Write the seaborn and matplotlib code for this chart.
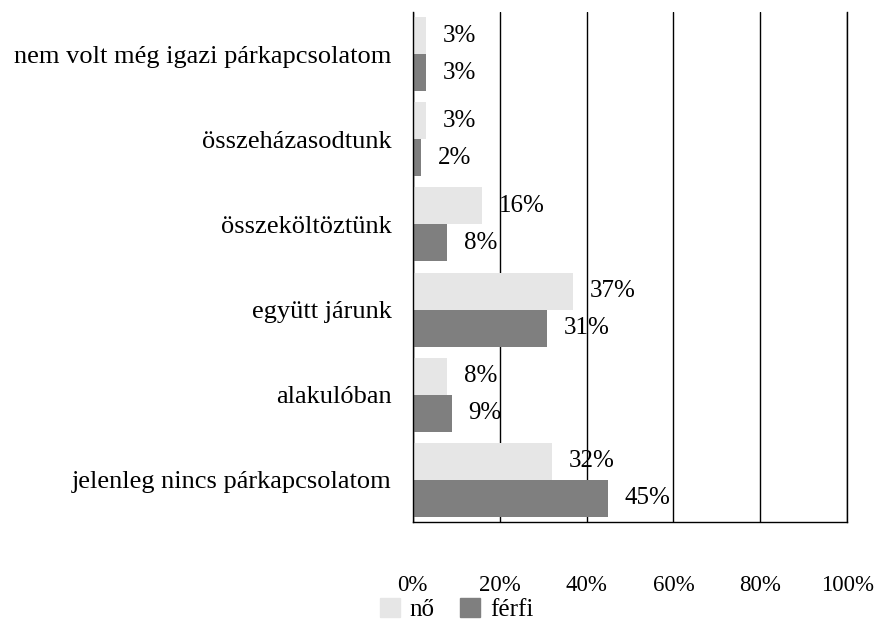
import pandas as pd
import numpy as np
import matplotlib.pyplot as plt
import seaborn as sns

# ----------------------------------------------
# Data
# ----------------------------------------------
categories = [
    "nem volt még igazi párkapcsolatom",
    "összeházasodtunk",
    "összeköltöztünk",
    "együtt járunk",
    "alakulóban",
    "jelenleg nincs párkapcsolatom",
]
no_values = [3, 3, 16, 37, 8, 32]      # nő
ferfi_values = [3, 2, 8, 31, 9, 45]    # férfi
series_names = ["nő", "férfi"]
x_ticks = [0, 20, 40, 60, 80, 100]
x_tick_labels = ["0%", "20%", "40%", "60%", "80%", "100%"]

df = pd.DataFrame({
    "category": categories * 2,
    "value": no_values + ferfi_values,
    "sex": [series_names[0]] * len(categories) + [series_names[1]] * len(categories),
})

# ----------------------------------------------
# Style
# ----------------------------------------------
sns.set_style("white")
plt.rcParams['font.family'] = ['Liberation Serif', 'DejaVu Serif']
plt.rcParams['text.color'] = 'black'
plt.rcParams['xtick.color'] = 'black'
plt.rcParams['ytick.color'] = 'black'

colors = ["#e6e6e6", "#7f7f7f"]

fig = plt.figure(figsize=(8.78, 6.21), dpi=100)
ax = fig.add_axes([0.470, 0.159, 0.495, 0.822])

sns.barplot(data=df, x="value", y="category", hue="sex",
            order=categories, hue_order=series_names,
            palette=colors, width=0.87, gap=0, linewidth=0,
            orient="h", ax=ax, legend=False, zorder=2)

# value labels
for cont in ax.containers:
    ax.bar_label(cont, labels=[f"{v:.0f}%" for v in cont.datavalues],
                 padding=12, fontsize=18, color="black")

ax.set_xlim(0, 100)
ax.set_xticks(x_ticks)
ax.set_xticklabels(x_tick_labels, fontsize=16.5)
ax.tick_params(axis="x", length=0, pad=38)
ax.tick_params(axis="y", length=0, pad=15, labelsize=19)
ax.set_xlabel("")
ax.set_ylabel("")

# vertical grid lines behind bars
ax.xaxis.grid(True, color="black", linewidth=1)
ax.set_axisbelow(True)
ax.spines["top"].set_visible(False)
for s in ["left", "bottom", "right"]:
    ax.spines[s].set_color("black")
    ax.spines[s].set_linewidth(1)

# legend at the bottom
handles = [plt.Rectangle((0, 0), 1, 1, color=c) for c in colors]
fig.legend(handles, series_names, loc="lower center", bbox_to_anchor=(0.52, -0.037),
           ncol=2, frameon=False, fontsize=18, handlelength=0.8, handleheight=0.8,
           handletextpad=0.4, columnspacing=1.0)

plt.savefig("out.png", dpi=100)
